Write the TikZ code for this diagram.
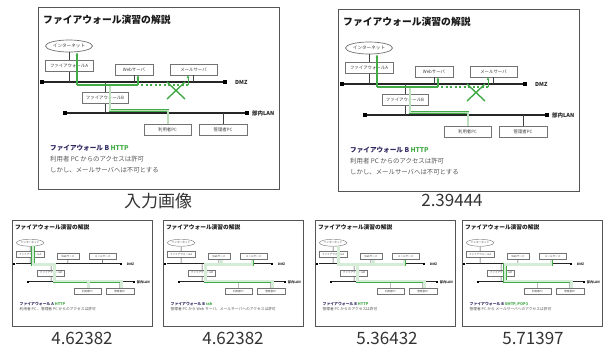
\documentclass[tikz,border=0pt]{standalone}
\usepackage{fontspec}
\setmainfont{Noto Sans CJK JP}
\usetikzlibrary{arrows.meta,shapes.geometric}
\definecolor{gcol}{RGB}{66,170,70}
\definecolor{navy}{RGB}{45,38,95}
\definecolor{frm}{RGB}{85,85,85}
\definecolor{boxc}{RGB}{115,115,115}
\definecolor{txt}{RGB}{60,60,60}
\definecolor{capc}{RGB}{85,85,85}
\newcommand\sfac{1}
\tikzset{
  frame/.style={draw=frm, line width=\sfac*0.9pt, fill=white},
  net/.style={draw=black!85, line width=\sfac*1.3pt},
  conn/.style={draw=black!75, line width=\sfac*0.8pt},
  endsq/.style={fill=black, draw=none, minimum size=3.8, inner sep=0pt},
  srv/.style={draw=boxc, line width=\sfac*0.6pt, fill=white, minimum width=#1, minimum height=11, inner sep=0pt, text=txt, font=\fontsize{4.4}{5}\selectfont},
  cloud/.style={ellipse, draw=boxc, line width=\sfac*0.7pt, fill=white, minimum width=47, minimum height=12, inner sep=0pt, text=txt, font=\fontsize{4.6}{5}\selectfont},
  ttl/.style={anchor=west, inner sep=0pt, text=black!90, font=\fontsize{9.8}{11}\selectfont\bfseries},
  tag/.style={anchor=west, inner sep=0pt, text=black!85, font=\fontsize{5.5}{6}\selectfont\bfseries},
  capA/.style={anchor=west, inner sep=0pt, text=navy, font=\fontsize{6.6}{7}\selectfont\bfseries},
  capB/.style={anchor=west, inner sep=0pt, text=capc, font=\fontsize{6.4}{7}\selectfont},
  gthick/.style={draw=gcol, line width=1.3pt},
  gbig/.style={draw=gcol, line width=0.6pt, double=gcol!35, double distance=1.4pt},
  gd/.style={draw=gcol, line width=0.5pt, double=gcol!22, double distance=2.4pt},
  gtip/.style={-{Latex[length=3pt,width=3pt]}},
  score/.style={text=black!80, font=\fontsize{17}{20}\selectfont},
}
\newcommand\slidebase{%
  \path[frame] (0,0) rectangle (241,182);
  \node[ttl] (title) at (5,13) {ファイアウォール演習の解説};
  \node[endsq] (dmzL) at (4,75) {};
  \node[endsq] (dmzR) at (187,75) {};
  \node[endsq] (lanL) at (27,106) {};
  \node[endsq] (lanR) at (209,106) {};
  \draw[net] (dmzL) -- (dmzR);
  \draw[net] (lanL) -- (lanR);
  \node[tag] (dmzT) at (197,75.5) {DMZ};
  \node[tag] (lanT) at (214,106.5) {部内LAN};
  \node[cloud] (inet) at (31,39) {インターネット};
  \node[srv=48] (fwa) at (31,59) {ファイアウォールA};
  \node[srv=38] (web) at (96,62.5) {Webサーバ};
  \node[srv=47] (mail) at (155.5,62.5) {メールサーバ};
  \node[srv=46] (fwb) at (67,91) {ファイアウォールB};
  \node[srv=47] (pc1) at (129.5,122.5) {利用者PC};
  \node[srv=48] (pc2) at (185,122.5) {管理者PC};
  \draw[conn] (inet) -- (fwa);
  \draw[conn] (fwa) -- (fwa |- dmzL);
  \draw[conn] (web) -- (web |- dmzL);
  \draw[conn] (mail) -- (mail |- dmzL);
  \draw[conn] (fwb) -- (fwb |- dmzL);
  \draw[conn] (fwb) -- (fwb |- lanL);
  \draw[conn] (pc1) -- (pc1 |- lanL);
  \draw[conn] (pc2) -- (pc2 |- lanL);
}
\newcommand\bigroute{%
  \draw[gbig] (72,78) -- (72,103.5) -- (130,103.5) -- (130,117);
  \draw[gthick] (39,78) -- (100,78);
  \draw[gthick,gtip] (39,78) -- (39,45.3);
  \draw[gthick,gtip] (100,78) -- (100,68.2);
  \draw[draw=gcol, line width=1.3pt, dash pattern=on 2pt off 2.5pt] (103,78) -- (150,78);
  \draw[draw=gcol, line width=1pt, gtip] (150,78) -- (150,68.2);
  \draw[draw=gcol, line width=1.4pt] (129,75) -- (147,92) (147,75) -- (129,92);
}
\begin{document}
\begin{tikzpicture}[x=1pt,y=-1pt]
\useasboundingbox (0,0) rectangle (605,349);
% big slide 1
\begin{scope}[shift={(38,7)}, name prefix=s1-]
  \slidebase
  \bigroute
  \node[capA] (c1) at (12,141) {ファイアウォール B \textcolor{gcol}{HTTP}};
  \node[capB] (c2) at (12,152.5) {利用者 PC からのアクセスは許可};
  \node[capB] (c3) at (12,163.5) {しかし、メールサーバへは不可とする};
\end{scope}
% big slide 2
\begin{scope}[shift={(338,9)}, name prefix=s2-]
  \slidebase
  \bigroute
  \node[capA] (c1) at (12,141) {ファイアウォール B \textcolor{gcol}{HTTP}};
  \node[capB] (c2) at (12,152.5) {利用者 PC からのアクセスは許可};
  \node[capB] (c3) at (12,163.5) {しかし、メールサーバへは不可とする};
\end{scope}
% small slide 3
\begin{scope}[shift={(12,220)}, scale=0.583, transform shape, name prefix=s3-]
  \renewcommand\sfac{0.583}
  \slidebase
  \draw[gd] (36,45) -- (36,76) -- (73,76) -- (73,105) -- (188,105) -- (188,117);
  \draw[gd] (131,105) -- (131,117);
  \node[capA] (c1) at (13,145) {ファイアウォール A \textcolor{gcol}{HTTP}};
  \node[capB] (c2) at (13,153.5) {利用者 PC 、管理者 PC からのアクセスは許可};
\end{scope}
% small slide 4
\begin{scope}[shift={(163,220)}, scale=0.583, transform shape, name prefix=s4-]
  \renewcommand\sfac{0.583}
  \slidebase
  \draw[gd] (188,117) -- (188,105) -- (73,105) -- (73,76) -- (153,76) -- (153,68);
  \draw[gd] (100,76) -- (100,68);
  \node[capA] (c1) at (13,145) {ファイアウォール B \textcolor{gcol}{ssh}};
  \node[capB] (c2) at (13,153.5) {管理者 PC から Web サーバ、メールサーバへのアクセスは許可};
\end{scope}
% small slide 5
\begin{scope}[shift={(315,220)}, scale=0.583, transform shape, name prefix=s5-]
  \renewcommand\sfac{0.583}
  \slidebase
  \draw[gd] (40,45) -- (40,76) -- (153,76) -- (153,68);
  \draw[gd] (100,76) -- (100,68);
  \draw[gd] (73,76) -- (73,105) -- (188,105) -- (188,117);
  \node[capA] (c1) at (13,145) {ファイアウォール B \textcolor{gcol}{HTTP}};
  \node[capB] (c2) at (13,153.5) {管理者 PC からのアクセスは許可};
\end{scope}
% small slide 6
\begin{scope}[shift={(462,220)}, scale=0.583, transform shape, name prefix=s6-]
  \renewcommand\sfac{0.583}
  \slidebase
  \draw[gd] (188,117) -- (188,105) -- (74,105) -- (74,76) -- (153,76) -- (153,68);
  \node[capA] (c1) at (13,145) {ファイアウォール B \textcolor{gcol}{SMTP, POP3}};
  \node[capB] (c2) at (13,153.5) {管理者 PC から メールサーバへのアクセスは許可};
\end{scope}
% scores
\node[score] (lab1) at (158,201) {入力画像};
\node[score] (lab2) at (452,200) {2.39444};
\node[score] (lab3) at (82,338) {4.62382};
\node[score] (lab4) at (233,338) {4.62382};
\node[score] (lab5) at (387,338) {5.36432};
\node[score] (lab6) at (533,338) {5.71397};
\end{tikzpicture}
\end{document}
